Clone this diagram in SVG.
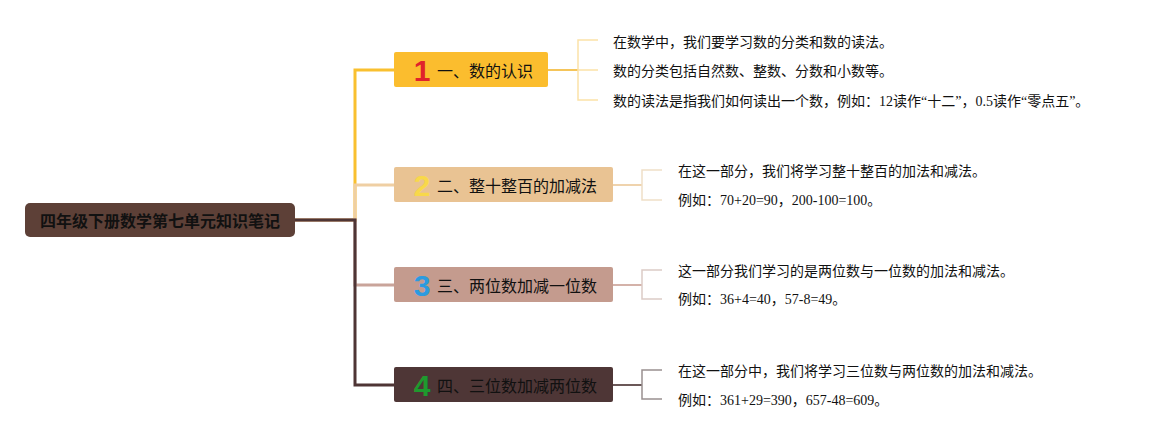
<svg xmlns="http://www.w3.org/2000/svg" width="1150" height="440" viewBox="0 0 1150 440">
<style>
.conn{fill:none;stroke-width:3;stroke-linejoin:miter}
.sub{fill:none;stroke-width:2}
.br{fill:none;stroke-width:1.5}
.lbl{font-family:"Noto Sans CJK SC","Noto Sans",sans-serif;font-size:16px;fill:#111;dominant-baseline:central}
.num{font-family:"Liberation Sans","Noto Sans",sans-serif;font-size:30px;font-weight:bold;dominant-baseline:central;text-anchor:middle}
.leaf{font-family:"Liberation Serif","Noto Sans CJK SC",serif;font-size:14px;fill:#111;dominant-baseline:central}
.root{font-family:"Noto Sans CJK SC",sans-serif;font-size:16px;font-weight:bold;fill:#111;dominant-baseline:central;text-anchor:middle}
</style>
<rect width="1150" height="440" fill="#ffffff"/>
<g id="connectors">
<path class="conn" stroke="#f9c02f" d="M295 220 H355 V70 H394"/>
<path class="conn" stroke="#efcfa3" d="M295 220 H355 V185 H394"/>
<path class="conn" stroke="#c9a49a" d="M295 220 H355 V285 H394"/>
<path class="conn" stroke="#4e3535" d="M295 220 H355 V385 H394"/>
<path class="sub" stroke="#f5c55a" d="M548 70 H578"/>
<path class="br" stroke="#fce2a8" d="M598 40 H578 V100 H598 M578 70 H598"/>
<path class="sub" stroke="#efd3ad" d="M613 185 H642"/>
<path class="br" stroke="#f0dfc8" d="M662 170 H642 V200 H662"/>
<path class="sub" stroke="#d4b2a9" d="M613 285 H642"/>
<path class="br" stroke="#dccbc6" d="M662 270 H642 V299 H662"/>
<path class="sub" stroke="#6b5858" d="M613 385 H642"/>
<path class="br" stroke="#999090" d="M662 370 H642 V399 H662"/>
</g>
<g id="root">
<rect x="25" y="203" width="270" height="34" rx="5" fill="#5d4037"/>
<text class="root" x="160" y="220">四年级下册数学第七单元知识笔记</text>
</g>
<g id="node1">
<rect x="394" y="52" width="154" height="35" rx="2" fill="#fbbd2e"/>
<text class="num" x="422" y="70" fill="#e0232b">1</text>
<text class="lbl" x="437" y="70">一、数的认识</text>
</g>
<g id="node2">
<rect x="394" y="167" width="219" height="35" rx="2" fill="#e9c393"/>
<text class="num" x="422" y="185" fill="#f8d84a">2</text>
<text class="lbl" x="437" y="185">二、整十整百的加减法</text>
</g>
<g id="node3">
<rect x="394" y="267" width="219" height="35" rx="2" fill="#c49b8e"/>
<text class="num" x="422" y="285" fill="#2b9be0">3</text>
<text class="lbl" x="437" y="285">三、两位数加减一位数</text>
</g>
<g id="node4">
<rect x="394" y="367" width="219" height="35" rx="2" fill="#4e3636"/>
<text class="num" x="422" y="385" fill="#1e9a2e">4</text>
<text class="lbl" x="437" y="385">四、三位数加减两位数</text>
</g>
<g id="leaves1">
<text class="leaf" x="613" y="42">在数学中，我们要学习数的分类和数的读法。</text>
<text class="leaf" x="613" y="71">数的分类包括自然数、整数、分数和小数等。</text>
<text class="leaf" x="613" y="101">数的读法是指我们如何读出一个数，例如：12读作“十二”，0.5读作“零点五”。</text>
</g>
<g id="leaves2">
<text class="leaf" x="678" y="171">在这一部分，我们将学习整十整百的加法和减法。</text>
<text class="leaf" x="678" y="200">例如：70+20=90，200-100=100。</text>
</g>
<g id="leaves3">
<text class="leaf" x="678" y="271">这一部分我们学习的是两位数与一位数的加法和减法。</text>
<text class="leaf" x="678" y="299">例如：36+4=40，57-8=49。</text>
</g>
<g id="leaves4">
<text class="leaf" x="678" y="371">在这一部分中，我们将学习三位数与两位数的加法和减法。</text>
<text class="leaf" x="678" y="400">例如：361+29=390，657-48=609。</text>
</g>
</svg>
